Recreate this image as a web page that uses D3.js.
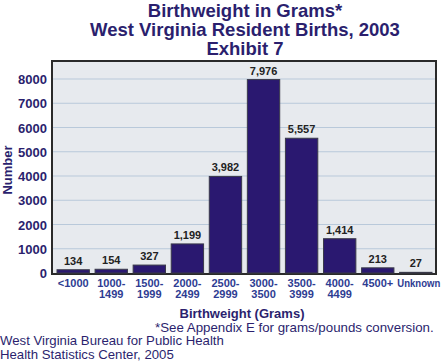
<!DOCTYPE html>
<html>
<head>
<meta charset="utf-8">
<script src="https://cdn.jsdelivr.net/npm/d3@7"></script>
<style>
	body { margin: 0; background: #fff; }
	svg { display: block; font-family: Arial, "Liberation Sans", sans-serif; }
</style>
</head>
<body>
<div id="chart"></div>
<script>
var categories = ['<1000', '1000-1499', '1500-1999', '2000-2499', '2500-2999', '3000-3500', '3500-3999', '4000-4499', '4500+', 'Unknown'];
var births = [134, 154, 327, 1199, 3982, 7976, 5557, 1414, 213, 27];
var tickLines = [['<1000'], ['1000-', '1499'], ['1500-', '1999'], ['2000-', '2499'], ['2500-', '2999'], ['3000-', '3500'], ['3500-', '3999'], ['4000-', '4499'], ['4500+'], ['Unknown']];
var yTicks = [0, 1000, 2000, 3000, 4000, 5000, 6000, 7000, 8000];

var width = 443;
var height = 362;
var navy = '#2b1f6e';

var svg = d3.select('#chart')
	.append('svg')
	.attr('width', width)
	.attr('height', height);

var x = d3.scaleBand()
	.domain(categories)
	.range([57, 432])
	.paddingInner(0.15)
	.paddingOuter(0);

var y = d3.scaleLinear()
	.domain([0, 8000])
	.range([273, 79]);

// plot frame
svg.append('rect')
	.attr('x', 52).attr('y', 61)
	.attr('width', 384).attr('height', 213)
	.attr('fill', '#e7eaee')
	.attr('stroke', '#2a2a2a')
	.attr('stroke-width', 2);

// gridlines
svg.selectAll('.grid')
	.data(yTicks.slice(1))
	.enter()
	.append('line')
	.attr('x1', 53).attr('x2', 435)
	.attr('y1', function(d){ return y(d); })
	.attr('y2', function(d){ return y(d); })
	.attr('stroke', '#b9c9da')
	.attr('stroke-width', 1);

// y axis labels
svg.selectAll('.ylab')
	.data(yTicks)
	.enter()
	.append('text')
	.attr('x', 47)
	.attr('y', function(d){ return y(d) + 5; })
	.attr('text-anchor', 'end')
	.attr('font-size', 13)
	.attr('font-weight', 'bold')
	.attr('fill', navy)
	.text(function(d){ return d; });

// bars
svg.selectAll('.bar')
	.data(births)
	.enter()
	.append('rect')
	.attr('x', function(d, i){ return x(categories[i]); })
	.attr('y', function(d){ return y(d); })
	.attr('width', x.bandwidth())
	.attr('height', function(d){ return y(0) - y(d); })
	.attr('fill', '#2a1870')
	.attr('stroke', '#3a3a4a')
	.attr('stroke-width', 1);

// value labels
svg.selectAll('.val')
	.data(births)
	.enter()
	.append('text')
	.attr('x', function(d, i){ return x(categories[i]) + x.bandwidth() / 2; })
	.attr('y', function(d){ return y(d) - 5; })
	.attr('text-anchor', 'middle')
	.attr('font-size', 11)
	.attr('font-weight', 'bold')
	.attr('fill', '#222')
	.text(function(d){ return d3.format(',')(d); });

// x tick labels
var ticks = svg.selectAll('.xlab')
	.data(tickLines)
	.enter()
	.append('text')
	.attr('text-anchor', 'middle')
	.attr('font-size', 11)
	.attr('font-weight', 'bold')
	.attr('fill', '#2e3c92');

ticks.selectAll('tspan')
	.data(function(d, i){ return d.map(function(t){ return {t: t, i: i}; }); })
	.enter()
	.append('tspan')
	.attr('x', function(d){
		var cx = x(categories[d.i]) + x.bandwidth() / 2;
		return d.t === 'Unknown' ? cx + 3 : cx;
	})
	.attr('y', function(d, j){ return 287 + j * 11; })
	.each(function(d){
		// the source squeezes this one to fit at the edge
		if (d.t === 'Unknown') {
			d3.select(this).attr('font-size', 10).attr('textLength', 43).attr('lengthAdjust', 'spacingAndGlyphs');
		}
	})
	.text(function(d){ return d.t; });

// titles
var titles = ['Birthweight in Grams*', 'West Virginia Resident Births, 2003', 'Exhibit 7'];
svg.selectAll('.title')
	.data(titles)
	.enter()
	.append('text')
	.attr('x', 245)
	.attr('y', function(d, i){ return 16.5 + i * 19; })
	.attr('text-anchor', 'middle')
	.attr('font-size', 18.5)
	.attr('font-weight', 'bold')
	.attr('fill', navy)
	.text(function(d){ return d; });

svg.append('text')
	.attr('transform', 'translate(12,170) rotate(-90)')
	.attr('text-anchor', 'middle')
	.attr('font-size', 13)
	.attr('font-weight', 'bold')
	.attr('fill', navy)
	.text('Number');

svg.append('text')
	.attr('x', 242).attr('y', 318)
	.attr('text-anchor', 'middle')
	.attr('font-size', 13)
	.attr('font-weight', 'bold')
	.attr('fill', navy)
	.text('Birthweight (Grams)');

svg.append('text')
	.attr('x', 155).attr('y', 332)
	.attr('font-size', 13.3)
	.attr('fill', navy)
	.text('*See Appendix E for grams/pounds conversion.');

svg.append('text')
	.attr('x', 0).attr('y', 345)
	.attr('font-size', 13.2)
	.attr('fill', navy)
	.text('West Virginia Bureau for Public Health');

svg.append('text')
	.attr('x', 0).attr('y', 359)
	.attr('font-size', 13.2)
	.attr('fill', navy)
	.text('Health Statistics Center, 2005');
</script>
</body>
</html>
